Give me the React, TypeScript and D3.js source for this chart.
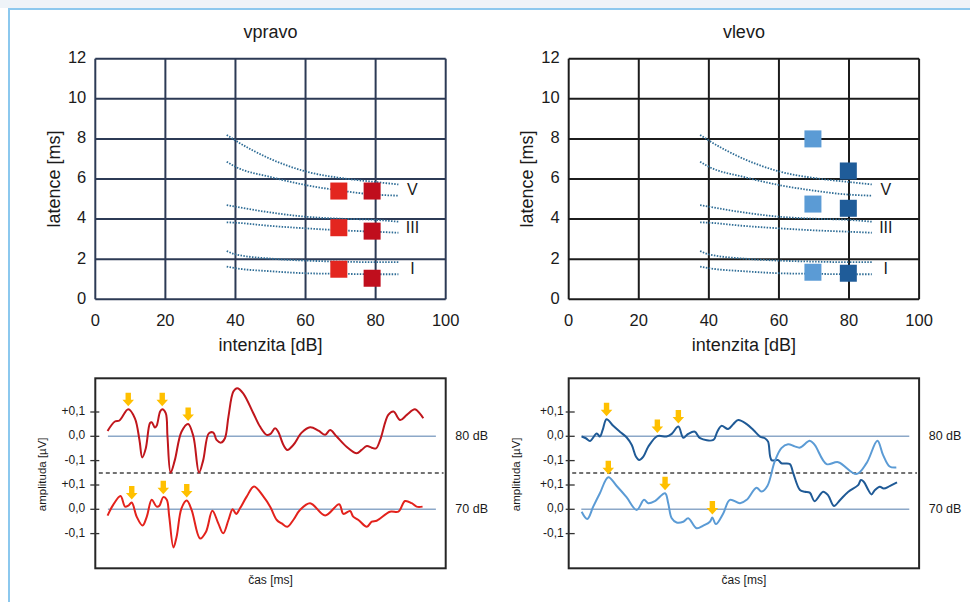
import * as d3 from "d3";

type Pt = [number, number];

const W = 970;
const H = 602;
const FONT = "'Liberation Sans', Arial, sans-serif";

// ---- latency / intensity charts ----
const dbTicks = [0, 20, 40, 60, 80, 100];
const msTicks = [0, 2, 4, 6, 8, 10, 12];
const waveNames = ["I", "III", "V"];
const waveNameMs = [1.45, 3.5, 5.4];
const waveNameDb = 90.5;

// dotted norm band, identical on both sides
const normDb = [37.5, 40, 50, 60, 70, 80, 86.5];
const normIUpper = [2.41, 2.24, 2.03, 1.93, 1.88, 1.85, 1.85];
const normILower = [1.63, 1.55, 1.4, 1.3, 1.27, 1.25, 1.25];
const normIIIUpper = [4.7, 4.62, 4.33, 4.12, 4.02, 3.96, 3.87];
const normIIILower = [3.84, 3.82, 3.66, 3.54, 3.44, 3.37, 3.32];
const normVUpper = [8.2, 7.92, 7.0, 6.38, 6.05, 5.85, 5.73];
const normVLower = [6.86, 6.61, 6.1, 5.7, 5.42, 5.22, 5.17];
const normCurves = [normIUpper, normILower, normIIIUpper, normIIILower, normVUpper, normVLower];

// measured latencies (I, III, V)
const rightDb = [69.5, 79];
const right70 = [1.5, 3.57, 5.4];
const right80 = [1.05, 3.4, 5.4];
const leftDb = [69.7, 79.8];
const left70 = [1.35, 4.75, 8.0];
const left80 = [1.3, 4.54, 6.4];

// ---- waveforms: [time (0-100 of frame), amplitude µV] ----
const ampTicks = [0.1, 0, -0.1];
const ampTickLabels = ["+0,1", "0,0", "-0,1"];
const levelLabels = ["80 dB", "70 dB"];

const rightWave80: Pt[] = [
  [3.5, 0.022], [5.6, 0.061], [6.9, 0.065], [9.4, 0.111], [11.3, 0.074], [12.6, -0.015],
  [13.4, -0.087], [14.4, -0.05], [15.6, 0.054], [16.1, 0.058], [17.0, 0.036], [17.5, 0.043],
  [18.5, 0.102], [19.1, 0.111], [20.1, 0.095], [20.6, -0.001], [21.5, -0.15], [22.7, -0.098],
  [24.6, 0.019], [26.5, 0.051], [28.0, -0.001], [29.6, -0.149], [30.8, -0.098], [32.4, 0.012],
  [33.7, 0.015], [34.6, -0.015], [35.9, -0.026], [37.0, -0.008], [38.0, 0.081], [39.4, 0.184],
  [40.5, 0.198], [42.2, 0.177], [45.1, 0.095], [47.0, 0.04], [48.9, 0.006], [50.0, 0.01],
  [51.3, 0.033], [52.2, 0.019], [53.7, -0.036], [54.8, -0.056], [56.5, -0.036], [58.9, 0.015],
  [61.3, 0.037], [63.7, 0.023], [65.6, 0.006], [67.0, 0.026], [68.9, -0.001], [71.7, -0.043],
  [74.6, -0.07], [76.0, -0.056], [77.5, -0.04], [78.9, -0.047], [80.1, -0.05], [81.3, -0.015],
  [83.6, 0.088], [85.1, 0.102], [87.0, 0.067], [88.9, 0.088], [91.2, 0.111], [92.7, 0.092],
  [93.6, 0.074],
];
const rightWave70: Pt[] = [
  [3.5, -0.026], [5.1, 0.018], [7.2, 0.055], [8.5, 0.011], [9.4, 0.015], [10.4, 0.028],
  [11.8, -0.03], [13.5, -0.067], [14.7, -0.03], [16.1, 0.039], [17.5, 0.011], [18.3, 0.015],
  [19.4, 0.05], [20.4, 0.039], [21.1, -0.03], [22.3, -0.157], [23.2, -0.113], [24.6, 0.004],
  [26.1, 0.036], [27.5, -0.003], [29.9, -0.12], [31.6, -0.092], [33.4, -0.006], [35.1, -0.058],
  [36.5, -0.099], [38.0, -0.044], [39.2, 0.0], [40.2, -0.019], [41.3, 0.004], [43.2, 0.052],
  [45.3, 0.094], [48.0, 0.052], [49.9, 0.011], [51.8, -0.044], [53.2, -0.058], [54.8, -0.072],
  [56.5, -0.044], [58.4, -0.003], [61.3, 0.025], [65.6, -0.025], [69.6, 0.021], [70.8, -0.019],
  [72.7, -0.007], [73.6, -0.03], [75.1, -0.044], [77.5, -0.072], [78.9, -0.051], [80.3, -0.047],
  [84.1, -0.01], [86.5, -0.01], [88.4, 0.034], [90.3, 0.025], [91.7, 0.011], [93.4, 0.011],
];
const leftWave80: Pt[] = [
  [3.7, -0.001], [4.9, -0.008], [6.1, -0.019], [8.0, 0.012], [8.9, -0.001], [9.7, 0.026],
  [10.8, 0.07], [12.7, 0.043], [14.6, 0.019], [16.5, -0.004], [18.0, -0.036], [19.2, -0.084],
  [20.1, -0.098], [21.3, -0.084], [22.7, -0.043], [25.3, 0.001], [27.9, -0.001], [29.4, 0.01],
  [31.3, 0.04], [32.7, -0.006], [34.1, 0.01], [36.0, 0.019], [37.5, -0.008], [41.3, -0.015],
  [42.4, 0.019], [43.6, 0.043], [45.5, 0.03], [47.0, 0.051], [48.4, 0.067], [50.8, 0.05],
  [52.7, 0.026], [54.6, -0.001], [56.0, -0.008], [56.9, -0.022], [57.9, -0.098], [59.8, -0.098],
  [60.7, -0.111], [63.1, -0.114], [64.1, -0.153], [66.0, -0.221], [67.4, -0.228], [68.8, -0.232],
  [70.2, -0.267], [72.6, -0.228], [74.0, -0.242], [75.7, -0.287], [77.4, -0.263], [79.8, -0.228],
  [82.6, -0.201], [83.4, -0.18], [84.2, -0.187], [85.5, -0.221], [86.4, -0.239], [87.4, -0.221],
  [88.8, -0.208], [89.9, -0.215], [91.6, -0.205], [93.7, -0.19],
];
const leftWave70: Pt[] = [
  [3.7, -0.01], [5.3, -0.04], [7.0, 0.011], [8.9, 0.066], [11.3, 0.132], [13.7, 0.096],
  [16.5, 0.05], [19.4, -0.003], [21.5, 0.039], [22.7, 0.025], [24.6, 0.034], [27.5, 0.066],
  [28.4, 0.025], [29.4, -0.037], [30.8, -0.054], [32.7, -0.051], [34.1, -0.037], [36.5, -0.078],
  [38.4, -0.067], [40.3, -0.051], [41.0, -0.034], [42.0, -0.061], [44.1, -0.017], [46.0, 0.039],
  [48.9, 0.025], [50.8, 0.039], [53.6, 0.089], [55.0, 0.073], [56.7, 0.096], [58.8, 0.197],
  [60.7, 0.252], [62.6, 0.268], [64.5, 0.259], [66.0, 0.254], [68.8, 0.282], [70.2, 0.265],
  [73.6, 0.186], [76.9, 0.194], [82.1, 0.145], [85.0, 0.19], [88.1, 0.282], [89.7, 0.224],
  [91.6, 0.176], [93.5, 0.172],
];

const rightArrows80 = [9.4, 19.1, 26.5];
const rightArrows70 = [10.4, 19.4, 26.1];
const leftArrows80 = [10.8, 25.3, 31.3];
const leftArrows70 = [11.3, 27.5, 41.0];

// ---- layout ----
const PANEL_W = 350.4;
const TOP_Y0 = 299.3;
const TOP_Y1 = 58.7;
const WAVE_TOP = 378.3;
const WAVE_BOTTOM = 568.3;
const BASE_80 = 436.3;
const BASE_70 = 509.3;
const PX_PER_UV = 243;

type LatProps = {
  x0: number;
  title: string;
  grid: string;
  db: number[];
  lat70: number[];
  lat80: number[];
  c70: string;
  c80: string;
};

const LatencyPanel = ({ x0, title, grid, db, lat70, lat80, c70, c80 }: LatProps) => {
  const x = d3.scaleLinear().domain([0, 100]).range([x0, x0 + PANEL_W]);
  const y = d3.scaleLinear().domain([0, 12]).range([TOP_Y0, TOP_Y1]);
  const line = d3
    .line<number>()
    .x((_, i) => x(normDb[i]))
    .y((d) => y(d))
    .curve(d3.curveMonotoneX);
  const sq = 17;
  return (
    <g fontFamily={FONT} fill="#1a1a1a">
      <text x={x(50)} y={33} fontSize={18} textAnchor="middle" dominantBaseline="middle">
        {title}
      </text>
      {dbTicks.map((t) => (
        <line key={"v" + t} x1={x(t)} x2={x(t)} y1={y(0)} y2={y(12)} stroke={grid} strokeWidth={2} />
      ))}
      {msTicks.map((t) => (
        <line key={"h" + t} x1={x(0)} x2={x(100)} y1={y(t)} y2={y(t)} stroke={grid} strokeWidth={2} />
      ))}
      {msTicks.map((t) => (
        <text key={"yl" + t} x={x0 - 9} y={y(t)} fontSize={16.5} textAnchor="end" dominantBaseline="middle">
          {t}
        </text>
      ))}
      {dbTicks.map((t) => (
        <text key={"xl" + t} x={x(t)} y={322} fontSize={16.5} textAnchor="middle" dominantBaseline="middle">
          {t}
        </text>
      ))}
      <text x={x(50)} y={346} fontSize={18} textAnchor="middle" dominantBaseline="middle">
        intenzita [dB]
      </text>
      <text
        transform={`translate(${x0 - 40}, ${y(6)}) rotate(-90)`}
        fontSize={18}
        textAnchor="middle"
        dominantBaseline="middle"
      >
        latence [ms]
      </text>
      {normCurves.map((c, i) => (
        <path
          key={"n" + i}
          d={line(c) ?? ""}
          fill="none"
          stroke="#2f6d96"
          strokeWidth={1.8}
          strokeDasharray="1.5 1.4"
        />
      ))}
      {lat70.map((v, i) => (
        <rect key={"a" + i} x={x(db[0]) - sq / 2} y={y(v) - sq / 2} width={sq} height={sq} fill={c70} />
      ))}
      {lat80.map((v, i) => (
        <rect key={"b" + i} x={x(db[1]) - sq / 2} y={y(v) - sq / 2} width={sq} height={sq} fill={c80} />
      ))}
      {waveNames.map((n, i) => (
        <text
          key={n}
          x={x(waveNameDb)}
          y={y(waveNameMs[i])}
          fontSize={16}
          textAnchor="middle"
          dominantBaseline="middle"
        >
          {n}
        </text>
      ))}
    </g>
  );
};

type WaveProps = {
  x0: number;
  w80: Pt[];
  w70: Pt[];
  c80: string;
  c70: string;
  a80: number[];
  a70: number[];
  labelGap: number;
  tickShift: number;
};

const arrowPath = (x: number, y: number) =>
  `M${x - 2.7},${y - 13.5} H${x + 2.7} V${y - 6.5} H${x + 5.8} L${x},${y} L${x - 5.8},${y - 6.5} H${x - 2.7} Z`;

const WavePanel = ({ x0, w80, w70, c80, c70, a80, a70, labelGap, tickShift }: WaveProps) => {
  const x = d3.scaleLinear().domain([0, 100]).range([x0, x0 + PANEL_W]);
  const y80 = d3.scaleLinear().domain([0, 0.1]).range([BASE_80, BASE_80 - PX_PER_UV * 0.1]);
  const y70 = d3.scaleLinear().domain([0, 0.1]).range([BASE_70, BASE_70 - PX_PER_UV * 0.1]);
  const mk = (ys: d3.ScaleLinear<number, number>) =>
    d3
      .line<Pt>()
      .x((d) => x(d[0]))
      .y((d) => ys(d[1]))
      .curve(d3.curveCatmullRom.alpha(0.5));
  const nearest = (data: Pt[], t: number) =>
    data.reduce((best, d) => (Math.abs(d[0] - t) < Math.abs(best[0] - t) ? d : best), data[0]);
  const rows = [
    { ys: y80, data: w80, color: c80, arrows: a80, label: levelLabels[0] },
    { ys: y70, data: w70, color: c70, arrows: a70, label: levelLabels[1] },
  ];
  return (
    <g fontFamily={FONT} fill="#1a1a1a">
      <rect
        x={x0}
        y={WAVE_TOP}
        width={PANEL_W}
        height={WAVE_BOTTOM - WAVE_TOP}
        fill="none"
        stroke="#262626"
        strokeWidth={2}
      />
      {rows.map((r, ri) => (
        <g key={"z" + ri}>
          <line x1={x(3.6)} x2={x(97.2)} y1={r.ys(0)} y2={r.ys(0)} stroke="#8ca8c8" strokeWidth={1.6} />
          {ampTicks.map((t, i) => (
            <g key={i}>
              <line
                x1={x0 - 5 + tickShift}
                x2={x0 + 4 + tickShift}
                y1={r.ys(t)}
                y2={r.ys(t)}
                stroke="#333"
                strokeWidth={1.3}
              />
              <text x={x0 - labelGap} y={r.ys(t)} fontSize={12} textAnchor="end" dominantBaseline="middle">
                {ampTickLabels[i]}
              </text>
            </g>
          ))}
          <text x={x0 + 360} y={r.ys(0)} fontSize={12.5} dominantBaseline="middle">
            {r.label}
          </text>
        </g>
      ))}
      <line
        x1={x(1)}
        x2={x(99.4)}
        y1={y80(-0.151)}
        y2={y80(-0.151)}
        stroke="#444"
        strokeWidth={1.5}
        strokeDasharray="4 3"
      />
      {rows.map((r, ri) => (
        <path key={"w" + ri} d={mk(r.ys)(r.data) ?? ""} fill="none" stroke={r.color} strokeWidth={2} />
      ))}
      {rows.map((r, ri) =>
        r.arrows.map((t, i) => {
          const p = nearest(r.data, t);
          return <path key={`ar${ri}-${i}`} d={arrowPath(x(p[0]), r.ys(p[1]) - 3)} fill="#ffc000" />;
        })
      )}
      <text
        transform={`translate(${x0 - 52}, ${BASE_80 + 38}) rotate(-90)`}
        fontSize={11.5}
        textAnchor="middle"
        dominantBaseline="middle"
      >
        amplituda [µV]
      </text>
      <text x={x(50)} y={581} fontSize={12} textAnchor="middle" dominantBaseline="middle">
        čas [ms]
      </text>
    </g>
  );
};

const App = () => {
  return (
    <svg
      width={W}
      height={H}
      viewBox={`0 0 ${W} ${H}`}
      style={{ position: "absolute", left: 0, top: 0, background: "#fff" }}
    >
      <rect x={0} y={0} width={W} height={8} fill="#eef3f8" />
      <line x1={8} x2={W} y1={9} y2={9} stroke="#8cc8ee" strokeWidth={2} />
      <line x1={9} x2={9} y1={8} y2={H} stroke="#8cc8ee" strokeWidth={2} />

      <LatencyPanel
        x0={95.3}
        title="vpravo"
        grid="#2c3a55"
        db={rightDb}
        lat70={right70}
        lat80={right80}
        c70="#e3261f"
        c80="#c00e1d"
      />
      <LatencyPanel
        x0={568.7}
        title="vlevo"
        grid="#1c1c1c"
        db={leftDb}
        lat70={left70}
        lat80={left80}
        c70="#5b9bd5"
        c80="#1f5c99"
      />
      <WavePanel
        x0={95.3}
        w80={rightWave80}
        w70={rightWave70}
        c80="#c0161c"
        c70="#e3221c"
        a80={rightArrows80}
        a70={rightArrows70}
        labelGap={10}
        tickShift={0}
      />
      <WavePanel
        x0={568.7}
        w80={leftWave80}
        w70={leftWave70}
        c80="#1f5a96"
        c70="#5b9bd5"
        a80={leftArrows80}
        a70={leftArrows70}
        labelGap={5}
        tickShift={2}
      />
    </svg>
  );
};

export default App;
